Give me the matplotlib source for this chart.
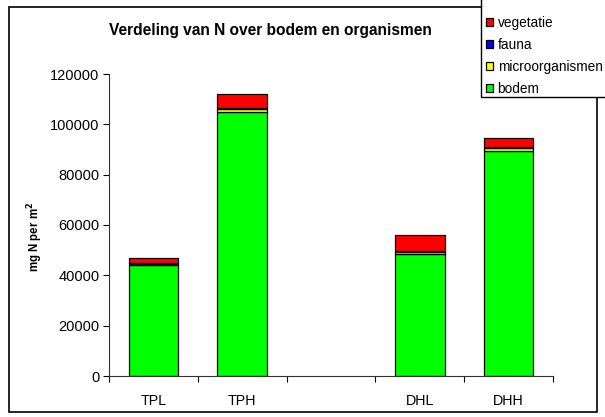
import matplotlib
matplotlib.use("Agg")
import matplotlib.pyplot as plt
from matplotlib.patches import Rectangle
import numpy as np

plt.rcParams['font.family'] = ['Liberation Sans', 'DejaVu Sans']

# N stock per compartment, mg N per m2 (empty slot between TP and DH sites)
sites = ['TPL', 'TPH', '', 'DHL', 'DHH']
bodem = [44000, 104800, 0, 48600, 89500]
microorganismen = [700, 1300, 0, 800, 1000]
fauna = [300, 200, 0, 400, 500]
vegetatie = [1800, 5800, 0, 6400, 3600]

layers = [('bodem', bodem, '#00ff00'),
          ('microorganismen', microorganismen, '#ffff00'),
          ('fauna', fauna, '#0000ff'),
          ('vegetatie', vegetatie, '#ff0000')]

W, H = 605, 417
fig = plt.figure(figsize=(W / 100, H / 100), dpi=100)
ax = fig.add_axes([109 / W, 41 / H, 444 / W, 302 / H])

x = np.arange(len(sites))
has_bar = np.array([sum(v) for v in zip(*[l[1] for l in layers])]) > 0
bottom = np.zeros(len(sites))
for name, vals, col in layers:
    vals = np.array(vals, dtype=float)
    ax.bar(x[has_bar], vals[has_bar], width=0.56, bottom=bottom[has_bar],
           color=col, edgecolor='black', linewidth=0.9, label=name)
    bottom += vals

ax.set_xlim(-0.5, len(sites) - 0.5)
ax.set_ylim(0, 120000)
ax.set_yticks(np.arange(0, 120001, 20000))
ax.set_xticks(x)
ax.set_xticklabels(sites, fontsize=10.3)
ax.set_xticks(np.arange(-0.5, len(sites), 1), minor=True)
ax.tick_params(axis='x', which='major', length=0, pad=13)
ax.tick_params(axis='x', which='minor', length=4, width=0.8, direction='out')
ax.tick_params(axis='y', length=4, width=0.8, direction='out', labelsize=10.5,
               pad=3)
for s in ['top', 'right']:
    ax.spines[s].set_visible(False)
for s in ['left', 'bottom']:
    ax.spines[s].set_linewidth(0.8)
    ax.spines[s].set_color('#333333')

fig.text(35 / W, 1 - 237 / H, 'mg N per m$^\\mathbf{2}$', rotation=90,
         ha='center', va='center', fontsize=8.3, fontweight='bold')

fig.text(270 / W, 1 - 31 / H, 'Verdeling van N over bodem en organismen',
         ha='center', va='center', fontsize=11.2, fontweight='bold')

# chart frame
fig.patches.append(Rectangle((9 / W, 5 / H), 588 / W, 405 / H,
                             transform=fig.transFigure, fill=False,
                             edgecolor='black', linewidth=1.2))

# legend box, runs past the top and right edge
fig.patches.append(Rectangle((481 / W, 1 - 97 / H), 140 / W, 110 / H,
                             transform=fig.transFigure, facecolor='white',
                             edgecolor='black', linewidth=1.0, zorder=3))

handles, labels = ax.get_legend_handles_labels()
leg = fig.legend(handles[::-1], labels[::-1], loc='upper left',
                 bbox_to_anchor=(486 / W, 1 - 16 / H), frameon=False,
                 fontsize=9.8, handlelength=0.5, handleheight=0.5,
                 handletextpad=0.35, labelspacing=0.58, borderpad=0,
                 borderaxespad=0)
leg.set_zorder(4)

fig.savefig('out.png', dpi=100)
